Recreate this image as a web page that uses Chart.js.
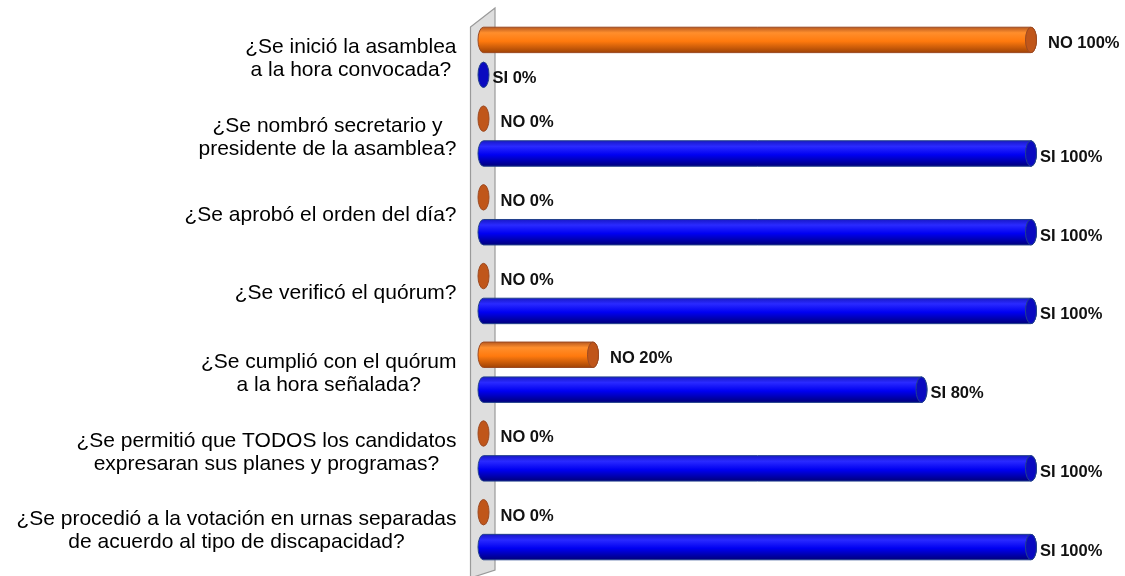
<!DOCTYPE html>
<html>
<head>
<meta charset="utf-8">
<script src="https://cdn.jsdelivr.net/npm/chart.js@4"></script>
<style>
  html, body { margin: 0; padding: 0; background: #fff; }
  #wrap { width: 1125px; height: 576px; }
</style>
</head>
<body>
<div id="wrap"><canvas id="chart" width="1125" height="576"></canvas></div>
<script>
const categories = [
  ['¿Se inició la asamblea', 'a la hora convocada?'],
  ['¿Se nombró secretario y', 'presidente de la asamblea?'],
  ['¿Se aprobó el orden del día?'],
  ['¿Se verificó el quórum?'],
  ['¿Se cumplió con el quórum', 'a la hora señalada?'],
  ['¿Se permitió que TODOS los candidatos', 'expresaran sus planes y programas?'],
  ['¿Se procedió a la votación en urnas separadas', 'de acuerdo al tipo de discapacidad?']
]
const seriesNames = ['NO', 'SI']
const noValues = [100, 0, 0, 0, 20, 0, 0]
const siValues = [0, 100, 100, 100, 80, 100, 100]

const palettes = [
  { edge: '#b85a20', light: '#ff8e2c', main: '#ff7a0e', dark: '#a04306', cap: '#c0561a', line: '#9c4a22' },
  { edge: '#1818c8', light: '#2a2aff', main: '#0000f2', dark: '#00007c', cap: '#0a0ac0', line: '#22408c' }
]
const labelOffsets = [17, 9]

function cylinder (ctx, x0, x1, yc, h, c) {
  const r = 5.5
  const top = yc - h / 2
  const g = ctx.createLinearGradient(0, top, 0, top + h)
  g.addColorStop(0, c.edge)
  g.addColorStop(0.22, c.light)
  g.addColorStop(0.55, c.main)
  g.addColorStop(1, c.dark)
  ctx.lineWidth = 1
  if (x1 > x0 + 0.5) {
    ctx.beginPath()
    ctx.ellipse(x0, yc, r, h / 2, 0, Math.PI / 2, Math.PI * 1.5)
    ctx.lineTo(x1, top)
    ctx.ellipse(x1, yc, r, h / 2, 0, -Math.PI / 2, Math.PI / 2)
    ctx.closePath()
    ctx.fillStyle = g
    ctx.fill()
    ctx.strokeStyle = c.line
    ctx.stroke()
  }
  ctx.beginPath()
  ctx.ellipse(x1, yc, r, h / 2, 0, 0, Math.PI * 2)
  ctx.fillStyle = c.cap
  ctx.fill()
  ctx.strokeStyle = c.line
  ctx.stroke()
}

const wallPlugin = {
  id: 'wall',
  beforeDatasetsDraw (chart) {
    const { ctx, chartArea } = chart
    const l = chartArea.left - 13
    const r = chartArea.left + 11.5
    ctx.save()
    ctx.beginPath()
    ctx.moveTo(l, chartArea.top + 9)
    ctx.lineTo(r, chartArea.top - 10)
    ctx.lineTo(r, chart.height - 6)
    ctx.lineTo(l, chart.height + 2)
    ctx.closePath()
    ctx.fillStyle = '#dedede'
    ctx.fill()
    ctx.strokeStyle = '#9a9a9a'
    ctx.lineWidth = 1.2
    ctx.stroke()
    ctx.restore()
  }
}

const cylinderPlugin = {
  id: 'cylinders',
  afterDatasetsDraw (chart) {
    const ctx = chart.ctx
    ctx.save()
    chart.data.datasets.forEach((ds, di) => {
      const meta = chart.getDatasetMeta(di)
      meta.data.forEach((el, i) => {
        const p = el.getProps(['x', 'y', 'base', 'height'], true)
        cylinder(ctx, p.base, p.x, p.y, p.height, palettes[di])
        ctx.fillStyle = '#111'
        ctx.font = 'bold 16.5px "Liberation Sans", Arial, sans-serif'
        ctx.textAlign = 'left'
        ctx.textBaseline = 'middle'
        ctx.fillText(seriesNames[di] + ' ' + ds.data[i] + '%', p.x + labelOffsets[di], p.y + 4)
      })
    })
    ctx.restore()
  }
}

const labelPlugin = {
  id: 'catLabels',
  afterDraw (chart) {
    const { ctx, chartArea } = chart
    const yScale = chart.scales.y
    const right = chartArea.left - 27
    const lineH = 23
    ctx.save()
    ctx.font = '21px "Liberation Sans", Arial, sans-serif'
    ctx.fillStyle = '#000'
    ctx.textAlign = 'center'
    ctx.textBaseline = 'middle'
    categories.forEach((lines, i) => {
      const yc = yScale.getPixelForTick(i) + (lines.length > 1 ? 1.5 : 0)
      const w = Math.max(...lines.map(t => ctx.measureText(t).width))
      const cx = right - w / 2
      lines.forEach((t, k) => {
        ctx.fillText(t, cx, yc + (k - (lines.length - 1) / 2) * lineH)
      })
    })
    ctx.restore()
  }
}

new Chart(document.getElementById('chart').getContext('2d'), {
  type: 'bar',
  data: {
    labels: categories,
    datasets: [
      { label: seriesNames[0], data: noValues, backgroundColor: 'rgba(0,0,0,0)', borderWidth: 0 },
      { label: seriesNames[1], data: siValues, backgroundColor: 'rgba(0,0,0,0)', borderWidth: 0 }
    ]
  },
  options: {
    indexAxis: 'y',
    responsive: false,
    animation: false,
    categoryPercentage: 0.886,
    barPercentage: 0.73,
    layout: { padding: { left: 483.5, right: 94, top: 18, bottom: 7 } },
    plugins: {
      legend: { display: false },
      tooltip: { enabled: false }
    },
    scales: {
      x: { min: 0, max: 100, display: false, grid: { display: false } },
      y: { display: false, grid: { display: false } }
    }
  },
  plugins: [wallPlugin, cylinderPlugin, labelPlugin]
})
</script>
</body>
</html>
